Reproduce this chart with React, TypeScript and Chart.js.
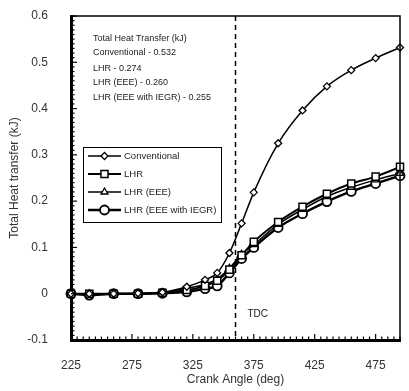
import React, { useEffect, useRef } from 'react';
import { Chart, registerables } from 'chart.js';
import { drawPoint } from 'chart.js/helpers';

Chart.register(...registerables);

// ---- data ----
const crankAngles = [225, 240, 260, 280, 300, 320, 335, 345, 355, 365, 375, 395, 415, 435, 455, 475, 495];
const conventional = [0, 0, 0, 0.001, 0.003, 0.015, 0.03, 0.045, 0.088, 0.152, 0.219, 0.325, 0.396, 0.448, 0.483, 0.509, 0.532];
const lhr = [0, 0, 0, 0, 0.002, 0.008, 0.017, 0.028, 0.052, 0.083, 0.112, 0.155, 0.188, 0.216, 0.238, 0.253, 0.274];
const lhrEEE = [0, 0, 0, 0, 0.002, 0.012, 0.02, 0.032, 0.055, 0.085, 0.106, 0.15, 0.182, 0.21, 0.23, 0.246, 0.26];
const lhrEEEiegr = [0, -0.003, 0, 0, 0.001, 0.004, 0.011, 0.017, 0.045, 0.076, 0.1, 0.143, 0.173, 0.199, 0.221, 0.238, 0.255];

const seriesNames = ['Conventional', 'LHR', 'LHR (EEE)', 'LHR (EEE with IEGR)'];
const xTickValues = [225, 275, 325, 375, 425, 475];
const yTickValues = [-0.1, 0, 0.1, 0.2, 0.3, 0.4, 0.5, 0.6];
const yTickLabels = ['-0.1', '0', '0.1', '0.2', '0.3', '0.4', '0.5', '0.6'];
const summaryLines = [
  'Total Heat Transfer (kJ)',
  'Conventional - 0.532',
  'LHR - 0.274',
  'LHR (EEE) - 0.260',
  'LHR (EEE with IEGR) - 0.255',
];
const tdcAngle = 360;
const tdcLabel = 'TDC';
const xMin = 225;
const xMax = 495;
const yMin = -0.1;
const yMax = 0.6;

const FONT = "'Liberation Sans', Arial, sans-serif";

const styles = [
  { pointStyle: 'rectRot', radius: 3.5, borderWidth: 1.3, lineWidth: 1.5 },
  { pointStyle: 'rect', radius: 5, borderWidth: 1.5, lineWidth: 2 },
  { pointStyle: 'triangle', radius: 4, borderWidth: 1.3, lineWidth: 1.5 },
  { pointStyle: 'circle', radius: 4.5, borderWidth: 1.8, lineWidth: 2.5 },
];

const decorPlugin = {
  id: 'decor',
  beforeDatasetsDraw(chart: any) {
    const { ctx, chartArea, scales } = chart;
    const x = scales.x.getPixelForValue(tdcAngle);
    ctx.save();
    ctx.strokeStyle = '#000';
    ctx.lineWidth = 1.5;
    ctx.setLineDash([5, 4]);
    ctx.beginPath();
    ctx.moveTo(x, chartArea.top);
    ctx.lineTo(x, chartArea.bottom);
    ctx.stroke();
    ctx.restore();
  },
  afterDraw(chart: any) {
    const { ctx, chartArea, scales } = chart;
    const { left, right, top, bottom } = chartArea;
    ctx.save();
    // top and right frame
    ctx.strokeStyle = '#000';
    ctx.lineWidth = 1.5;
    ctx.beginPath();
    ctx.moveTo(left, top);
    ctx.lineTo(right, top);
    ctx.lineTo(right, bottom);
    ctx.stroke();

    // inward minor/major ticks on left axis
    ctx.lineWidth = 1.2;
    for (let i = 0; i <= Math.round((yMax - yMin) / 0.01); i++) {
      const v = yMin + i * 0.01;
      const py = scales.y.getPixelForValue(v);
      const major = i % 10 === 0;
      ctx.beginPath();
      ctx.moveTo(left, py);
      ctx.lineTo(left + (major ? 6 : 3.5), py);
      ctx.stroke();
    }
    // inward ticks on bottom axis
    for (let v = xMin; v <= xMax; v += 5) {
      const px = scales.x.getPixelForValue(v);
      const major = (v - xMin) % 50 === 0;
      ctx.beginPath();
      ctx.moveTo(px, bottom);
      ctx.lineTo(px, bottom - (major ? 6 : 3.5));
      ctx.stroke();
    }

    // TDC label
    const tx = scales.x.getPixelForValue(tdcAngle);
    ctx.fillStyle = '#222';
    ctx.font = `10px ${FONT}`;
    ctx.textBaseline = 'middle';
    ctx.textAlign = 'left';
    ctx.fillText(tdcLabel, tx + 12, scales.y.getPixelForValue(-0.045));

    // summary text
    ctx.font = `9px ${FONT}`;
    const sy = [39, 53, 69, 83, 98];
    summaryLines.forEach((t, i) => {
      ctx.fillText(t, left + 22, sy[i]);
    });

    // legend box
    const lx = 83, ly = 147, lw = 138, lh = 75;
    ctx.lineWidth = 1;
    ctx.strokeStyle = '#000';
    ctx.fillStyle = '#fff';
    ctx.fillRect(lx, ly, lw, lh);
    ctx.strokeRect(lx + 0.5, ly + 0.5, lw, lh);
    const rows = [156, 174, 192, 210];
    seriesNames.forEach((name, i) => {
      const st = styles[i];
      const y = rows[i];
      ctx.strokeStyle = '#000';
      ctx.lineWidth = st.lineWidth;
      ctx.beginPath();
      ctx.moveTo(88, y);
      ctx.lineTo(121, y);
      ctx.stroke();
      ctx.fillStyle = '#fff';
      ctx.lineWidth = st.borderWidth;
      drawPoint(ctx, { pointStyle: st.pointStyle, radius: st.radius, rotation: 0, borderWidth: st.borderWidth } as any, 104.5, y);
      ctx.fillStyle = '#222';
      ctx.font = `9.5px ${FONT}`;
      ctx.textAlign = 'left';
      ctx.textBaseline = 'middle';
      ctx.fillText(name, 124, y);
    });
    ctx.restore();
  },
};

export default function App() {
  const ref = useRef<HTMLCanvasElement>(null);
  useEffect(() => {
    document.body.style.margin = '0';
    const allSeries = [conventional, lhr, lhrEEE, lhrEEEiegr];
    const chart = new Chart(ref.current!, {
      type: 'line',
      data: {
        datasets: allSeries.map((vals, i) => ({
          label: seriesNames[i],
          data: crankAngles.map((a, j) => ({ x: a, y: vals[j] })),
          borderColor: '#000',
          backgroundColor: '#fff',
          pointBackgroundColor: '#fff',
          pointBorderColor: '#000',
          borderWidth: styles[i].lineWidth,
          pointStyle: styles[i].pointStyle as any,
          pointRadius: styles[i].radius,
          pointBorderWidth: styles[i].borderWidth,
          cubicInterpolationMode: 'monotone' as const,
          fill: false,
          clip: false as any,
        })),
      },
      options: {
        responsive: false,
        animation: false,
        layout: { padding: { top: 16, right: 9, left: 0, bottom: 0 } },
        plugins: { legend: { display: false }, tooltip: { enabled: false } },
        scales: {
          x: {
            type: 'linear',
            min: xMin,
            max: xMax,
            grid: { display: false },
            border: { display: true, color: '#000', width: 3 },
            afterBuildTicks: (s: any) => {
              s.ticks = xTickValues.map((v) => ({ value: v }));
            },
            afterFit: (s: any) => {
              s.height = 51;
              s.paddingLeft = 0;
              s.paddingRight = 0;
            },
            ticks: {
              padding: 10,
              color: '#333',
              font: { family: FONT, size: 12 },
              maxRotation: 0,
              callback: (v: any) => String(v),
            },
            title: {
              display: true,
              text: 'Crank Angle (deg)',
              color: '#333',
              font: { family: FONT, size: 12 },
              padding: { top: 0, bottom: 4 },
            },
          },
          y: {
            type: 'linear',
            min: yMin,
            max: yMax,
            grid: { display: false },
            border: { display: true, color: '#000', width: 3 },
            afterBuildTicks: (s: any) => {
              s.ticks = yTickValues.map((v) => ({ value: v }));
            },
            afterFit: (s: any) => {
              s.width = 71;
              s.paddingTop = 0;
              s.paddingBottom = 0;
            },
            ticks: {
              padding: 15,
              color: '#333',
              font: { family: FONT, size: 12 },
              callback: (v: any) => {
                const idx = yTickValues.findIndex((t) => Math.abs(t - v) < 1e-9);
                return idx >= 0 ? yTickLabels[idx] : '';
              },
            },
            title: {
              display: true,
              text: 'Total Heat transfer (kJ)',
              color: '#333',
              font: { family: FONT, size: 12 },
              padding: { top: 7, bottom: 0 },
            },
          },
        },
      },
      plugins: [decorPlugin],
    });
    return () => chart.destroy();
  }, []);
  return (
    <div style={{ width: 409, height: 391 }}>
      <canvas ref={ref} width={409} height={391} />
    </div>
  );
}
